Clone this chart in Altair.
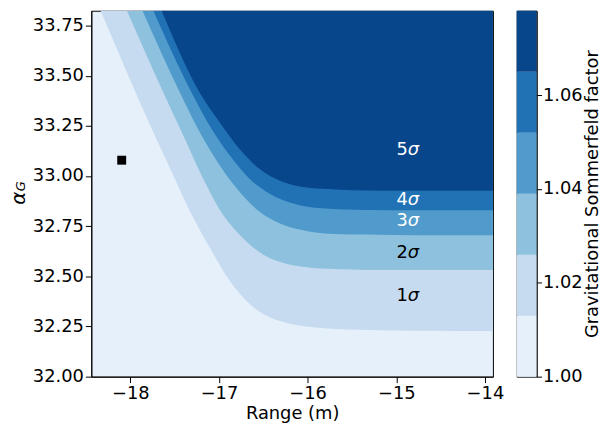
import altair as alt
import pandas as pd

# axis ranges (log10 range in m, alpha_G)
x_min, x_max = -18.44, -13.91
y_min, y_max = 32.0, 33.824

# contour boundaries (lower edge of each darker band)
L1_x = [-18.335, -17.773, -17.550, -17.326, -17.103, -16.879, -16.656, -16.432, -16.209, -15.911, -15.539, -15.316, -14.756, -13.90]
L1_y = [33.824, 33.250, 33.036, 32.823, 32.642, 32.478, 32.363, 32.297, 32.265, 32.245, 32.235, 32.232, 32.229, 32.228]
L2_x = [-18.038, -17.625, -17.401, -17.178, -16.954, -16.731, -16.507, -16.284, -15.985, -15.687, -15.316, -14.756, -13.90]
L2_y = [33.824, 33.414, 33.201, 32.987, 32.807, 32.691, 32.610, 32.568, 32.544, 32.536, 32.532, 32.532, 32.532]
L3_x = [-17.863, -17.438, -17.215, -16.991, -16.768, -16.544, -16.284, -15.985, -15.687, -15.316, -14.756, -13.90]
L3_y = [33.824, 33.414, 33.217, 33.053, 32.922, 32.823, 32.758, 32.724, 32.711, 32.708, 32.705, 32.705]
L4_x = [-17.740, -17.307, -17.103, -16.879, -16.656, -16.432, -16.172, -15.837, -15.316, -14.756, -13.90]
L4_y = [33.824, 33.414, 33.250, 33.103, 32.987, 32.913, 32.864, 32.839, 32.831, 32.830, 32.830]
L5_x = [-17.647, -17.215, -16.991, -16.768, -16.544, -16.284, -15.985, -15.687, -15.316, -14.756, -13.90]
L5_y = [33.824, 33.414, 33.267, 33.135, 33.036, 32.971, 32.941, 32.933, 32.928, 32.927, 32.927]

band_colors = ["#e6f0fa", "#c6dbef", "#8dc1dd", "#509bcb", "#2171b5", "#08468c"]
levels = [1.000, 1.013, 1.026, 1.039, 1.052, 1.065, 1.078]
cb_ticks = [1.00, 1.02, 1.04, 1.06]

sig_num = ["1", "2", "3", "4", "5"]
sig_sym = ["σ", "σ", "σ", "σ", "σ"]
sig_x = [-14.87, -14.87, -14.87, -14.87, -14.87]
sig_y = [32.404, 32.616, 32.774, 32.882, 33.129]
sig_color = ["black", "black", "white", "white", "white"]

pt_x = [-18.097]
pt_y = [33.079]

x_ticks = [-18, -17, -16, -15, -14]
y_ticks = [32.0, 32.25, 32.5, 32.75, 33.0, 33.25, 33.5, 33.75]

W, H = 405, 369
FONT = "DejaVu Sans"

xs = alt.Scale(domain=[x_min, x_max], nice=False, zero=False)
ys = alt.Scale(domain=[y_min, y_max], nice=False, zero=False)
ax_x = alt.Axis(values=x_ticks, format="d", title="Range (m)", labelFlush=False, titlePadding=2)
ax_y = alt.Axis(values=y_ticks, format=".2f", title="", labelFlush=False)

curves = [(L1_x, L1_y), (L2_x, L2_y), (L3_x, L3_y), (L4_x, L4_y), (L5_x, L5_y)]
layers = []
for i, (cx, cy) in enumerate(curves):
    df = pd.DataFrame({"x": cx, "y": cy})
    df["top"] = y_max
    layers.append(
        alt.Chart(df).mark_area(color=band_colors[i + 1], clip=True, interpolate="monotone", orient="vertical")
        .encode(x=alt.X("x:Q", scale=xs, axis=ax_x), y=alt.Y("y:Q", scale=ys, axis=ax_y), y2="top:Q")
    )

sig_df = pd.DataFrame({"x": sig_x, "y": sig_y, "n": sig_num, "s": sig_sym, "c": sig_color})
layers.append(
    alt.Chart(sig_df).mark_text(fontSize=18, font=FONT, align="right", baseline="middle")
    .encode(x=alt.X("x:Q", scale=xs, axis=ax_x), y=alt.Y("y:Q", scale=ys, axis=ax_y),
            text="n:N", color=alt.Color("c:N", scale=None))
)
layers.append(
    alt.Chart(sig_df).mark_text(fontSize=18, font=FONT, fontStyle="italic", align="left", baseline="middle")
    .encode(x=alt.X("x:Q", scale=xs, axis=ax_x), y=alt.Y("y:Q", scale=ys, axis=ax_y),
            text="s:N", color=alt.Color("c:N", scale=None))
)

pt_df = pd.DataFrame({"x": pt_x, "y": pt_y})
layers.append(
    alt.Chart(pt_df).mark_square(size=81, color="black", filled=True, opacity=1)
    .encode(x=alt.X("x:Q", scale=xs, axis=ax_x), y=alt.Y("y:Q", scale=ys, axis=ax_y))
)

title_df = pd.DataFrame({"t": ["α"], "s": ["G"]})
layers.append(
    alt.Chart(title_df).mark_text(angle=270, fontSize=20, fontStyle="italic", font=FONT,
                                  align="center", baseline="middle")
    .encode(x=alt.value(-73), y=alt.value(189), text="t:N")
)
layers.append(
    alt.Chart(title_df).mark_text(angle=270, fontSize=13, fontStyle="italic", font=FONT,
                                  align="center", baseline="middle")
    .encode(x=alt.value(-71), y=alt.value(177), text="s:N")
)

main = alt.layer(*layers).properties(width=W, height=H)

cb_df = pd.DataFrame({"lo": levels[:-1], "hi": levels[1:], "c": band_colors})
colorbar = alt.Chart(cb_df).mark_rect().encode(
    y=alt.Y("lo:Q", scale=alt.Scale(domain=[levels[0], levels[-1]], nice=False, zero=False),
            axis=alt.Axis(orient="right", values=cb_ticks, format=".2f",
                          title="Gravitational Sommerfeld factor", titleAngle=270,
                          titleBaseline="top", labelFlush=False, titlePadding=1,
                          tickSize=5, labelPadding=1)),
    y2="hi:Q",
    x=alt.value(0), x2=alt.value(20),
    color=alt.Color("c:N", scale=None),
).properties(width=20, height=H)

chart = alt.hconcat(main, colorbar, spacing=24, bounds="flush").configure(
    padding={"left": 0, "top": 0, "right": 0, "bottom": 0}, font=FONT
).configure_view(
    stroke="black", strokeWidth=1, fill=band_colors[0]
).configure_axis(
    labelFontSize=18, titleFontSize=18, labelFont=FONT, titleFont=FONT,
    labelColor="black", titleColor="black", tickColor="black", domainColor="black",
    tickSize=6, labelPadding=2, grid=False, titleFontWeight="normal"
)

chart.save("out.html", embed_options={"renderer": "svg", "actions": False})
